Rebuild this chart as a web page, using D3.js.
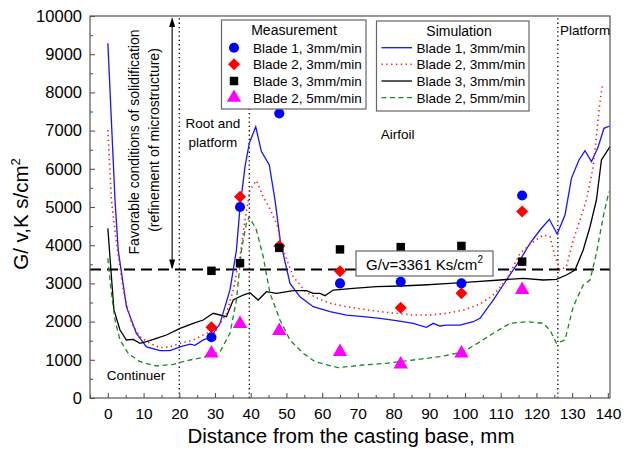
<!DOCTYPE html>
<html>
<head>
<meta charset="utf-8">
<script src="https://cdn.jsdelivr.net/npm/d3@7/dist/d3.min.js"></script>
<style>
html,body{margin:0;padding:0;background:#fff;}
svg{display:block;font-family:Arial,"Liberation Sans",sans-serif;}
</style>
</head>
<body>
<svg id="chart" width="627" height="451"></svg>
<script>
// ---------- data ----------
const xTicks = [0,10,20,30,40,50,60,70,80,90,100,110,120,130,140];
const yTicks = [0,1000,2000,3000,4000,5000,6000,7000,8000,9000,10000];
const threshold = 3361;

const measX = [29, 37, 48, 65, 82, 99, 116];
const measBlade1_3 = [1590, 5000, 7450, 3000, 3040, 3000, 5300];
const measBlade2_3 = [1850, 5270, 3980, 3320, 2360, 2740, 4880];
const measBlade3_3 = [3330, 3530, 3930, 3890, 3950, 3980, 3570];
const measBlade2_5 = [1170, 1940, 1760, 1210, 880, 1170, 2830];

const simBlade1_3 = [[0,9290],[2,5180],[2.9,3870],[5.2,2390],[8,1690],[10.8,1340],[14.6,1240],[17.4,1240],[20.2,1340],[23,1410],[24.4,1380],[26.7,1520],[28.8,1590],[31.4,1955],[34.2,2830],[36,3870],[37,4990],[38.4,6055],[39.6,6670],[41.4,7100],[43,6450],[45.2,6100],[46.8,5180],[48.3,4100],[51,3000],[53.8,2650],[57.5,2390],[62.2,2260],[66.8,2170],[71.5,2130],[76.2,2086],[80.8,2024],[85.5,1955],[89.2,1850],[91.1,1955],[93,1885],[94.8,1910],[98.6,1910],[102.3,1997],[104.2,2086],[107.9,2565],[111.6,3089],[115.4,3613],[118.2,4050],[121,4398],[123.6,4678],[125.8,4293],[128,4790],[129.8,5750],[131.9,6230],[133.6,6474],[135.4,6186],[137.3,6579],[138.9,7060],[140.5,7120]];
const simBlade2_3 = [[0,7015],[1,5180],[2.4,4050],[4.3,2830],[6.6,1955],[9,1605],[11.8,1430],[14.6,1317],[17.4,1343],[20.2,1432],[23.9,1518],[27.6,1694],[30.4,1780],[33.2,2217],[35.1,2827],[37,3700],[38.4,4660],[39.8,5445],[41.6,5690],[43.5,5270],[45.4,4950],[47.5,4500],[48.6,4000],[51.9,3175],[55.6,2760],[59,2600],[62.2,2479],[66.8,2390],[71.5,2322],[76.2,2260],[80.8,2217],[85.5,2173],[90.2,2173],[94.8,2217],[99.5,2300],[104.2,2460],[107.9,2696],[111.6,3089],[115.4,3788],[118.6,4050],[121.9,4267],[123.8,4222],[125.2,3700],[126.6,3351],[128.4,3438],[130.3,4136],[132.2,4660],[134,5183],[135.9,6055],[137.8,7750],[138.5,8190]];
const simBlade3_3 = [[0,4440],[1,3175],[1.7,2304],[3.4,1780],[5.2,1518],[7.1,1536],[9,1431],[10.8,1474],[13.6,1562],[16.4,1649],[20.2,1824],[23.9,1955],[26.7,2042],[29.5,2217],[33.2,2128],[35.1,2565],[37.9,2696],[39.8,2757],[42.1,2565],[44.4,2783],[47.2,2740],[51.9,2809],[55.6,2809],[57.5,2740],[59.4,2740],[60.8,2678],[63.1,2827],[68.7,2871],[75.2,2914],[81.8,2932],[88.3,2958],[95.8,3003],[103.2,3045],[109.8,3089],[116.3,3133],[121.9,3089],[125.6,3107],[128.4,3220],[130.8,3351],[133.1,3874],[135,4484],[136.8,5183],[138.2,6230],[140.6,6578]];
const simBlade2_5 = [[0,3657],[1,2740],[2,2042],[3.4,1518],[5.7,1170],[9,950],[13.6,838],[18.3,882],[23,995],[27.6,1082],[31.4,1212],[34.2,1694],[36,2565],[37.4,3874],[38.8,4573],[39.6,4746],[41.6,4398],[43.5,3700],[45.4,2740],[48.2,2042],[51,1518],[54.7,1170],[58,950],[64.5,794],[71.5,864],[78,908],[85.5,995],[93,1082],[99.5,1212],[103.5,1430],[107.9,1694],[112.6,1955],[117.2,1997],[121.9,1955],[123.8,1780],[125.6,1432],[128,1518],[130.3,2390],[133.1,2958],[135,3089],[136.8,3788],[138.7,4746],[140.3,5400]];

const measLabels = ["Blade 1, 3mm/min","Blade 2, 3mm/min","Blade 3, 3mm/min","Blade 2, 5mm/min"];
const simLabels  = ["Blade 1, 3mm/min","Blade 2, 3mm/min","Blade 3, 3mm/min","Blade 2, 5mm/min"];

// ---------- setup ----------
const svg = d3.select("#chart");
const L = 90, R = 610, T = 16, B = 398;
const x = d3.scaleLinear().domain([-5, 140.6]).range([L, R]);
const y = d3.scaleLinear().domain([0, 10000]).range([B, T]);
const axisColor = "#555";
const FONT = 'Arial,"Liberation Sans",sans-serif';

// vertical dotted region lines
const dotted = "1.3,3";
[[20, 0, 10000], [39.6, 0, 7600], [126, 0, 10000]].forEach(d => {
  svg.append("line").attr("x1", x(d[0])).attr("x2", x(d[0]))
    .attr("y1", y(d[1])).attr("y2", y(d[2]))
    .attr("stroke", "#000").attr("stroke-width", 1.3).attr("stroke-dasharray", dotted);
});

// threshold dashed line
svg.append("line").attr("x1", L).attr("x2", R).attr("y1", y(threshold)).attr("y2", y(threshold))
  .attr("stroke", "#000").attr("stroke-width", 2).attr("stroke-dasharray", "11,6");

// simulation lines
const line = d3.line().x(d => x(d[0])).y(d => y(d[1]));
const simStyles = [
  {data: simBlade1_3, color: "#1515ff", dash: null, w: 1.3},
  {data: simBlade2_3, color: "#ff2020", dash: "1.4,3.4", w: 1.6},
  {data: simBlade3_3, color: "#000", dash: null, w: 1.3},
  {data: simBlade2_5, color: "#1a8a1a", dash: "5,3.5", w: 1.3}
];
simStyles.forEach(s => {
  svg.append("path").attr("d", line(s.data)).attr("fill", "none")
    .attr("stroke", s.color).attr("stroke-width", s.w)
    .attr("stroke-dasharray", s.dash);
});

// markers
const markerDefs = [
  {vals: measBlade1_3, color: "#0000ff", sym: d3.symbolCircle, size: 80, rot: 0},
  {vals: measBlade2_3, color: "#ff0000", sym: d3.symbolSquare, size: 72, rot: 45},
  {vals: measBlade3_3, color: "#000", sym: d3.symbolSquare, size: 72, rot: 0},
  {vals: measBlade2_5, color: "#ff00ff", sym: d3.symbolTriangle, size: 90, rot: 0}
];
markerDefs.forEach(m => {
  svg.append("g").selectAll("path").data(m.vals.map((v, i) => [measX[i], v])).join("path")
    .attr("transform", d => `translate(${x(d[0])},${y(d[1])}) rotate(${m.rot})`)
    .attr("d", d3.symbol().type(m.sym).size(m.size))
    .attr("fill", m.color);
});

// frame
svg.append("rect").attr("x", L).attr("y", T).attr("width", R - L).attr("height", B - T)
  .attr("fill", "none").attr("stroke", axisColor).attr("stroke-width", 1.2);

// axes
const xAxis = svg.append("g").attr("transform", `translate(0,${B})`)
  .call(d3.axisBottom(x).tickValues(xTicks).tickSize(-5).tickPadding(10).tickFormat(d3.format("d")));
const xMinor = svg.append("g").attr("transform", `translate(0,${B})`)
  .call(d3.axisBottom(x).tickValues(xTicks.map(v => v - 5)).tickSize(-3).tickFormat(""));
const yAxis = svg.append("g").attr("transform", `translate(${L},0)`)
  .call(d3.axisLeft(y).tickValues(yTicks).tickSize(-5).tickPadding(8).tickFormat(d3.format("d")));
const yMinor = svg.append("g").attr("transform", `translate(${L},0)`)
  .call(d3.axisLeft(y).tickValues(yTicks.slice(0, -1).map(v => v + 500)).tickSize(-3).tickFormat(""));
[xAxis, xMinor, yAxis, yMinor].forEach(g => {
  g.select(".domain").remove();
  g.selectAll("line").attr("stroke", axisColor).attr("stroke-width", 1.1);
  g.selectAll("text").attr("fill", "#000").style("font-family", FONT);
});
xAxis.selectAll("text").style("font-size", "15.5px");
yAxis.selectAll("text").style("font-size", "16.5px");

// axis titles
svg.append("text").attr("x", 351).attr("y", 443).attr("text-anchor", "middle")
  .style("font-size", "20.5px").text("Distance from the casting base, mm");
const yt = svg.append("text").attr("transform", "translate(28,214) rotate(-90)")
  .attr("text-anchor", "middle").style("font-size", "20.5px");
yt.append("tspan").text("G/ v,K s/cm");
yt.append("tspan").attr("dy", -8).style("font-size", "13px").text("2");

// annotations
const ann = (t, xv, yv, anchor) => svg.append("text").attr("x", x(xv)).attr("y", y(yv))
  .attr("text-anchor", anchor || "start").style("font-size", "13.5px").text(t);
ann("Root and", 29.4, 7068, "middle");
ann("platform", 29.4, 6570, "middle");
ann("Airfoil", 76.4, 6780);
ann("Platform", 126.6, 9500);
ann("Continuer", -0.3, 470);

// rotated "favorable" text
svg.append("text").attr("transform", `translate(${x(8.6)},142) rotate(-90)`)
  .attr("text-anchor", "middle").style("font-size", "14px")
  .text("Favorable conditions of solidification");
svg.append("text").attr("transform", `translate(${x(14.2)},140) rotate(-90)`)
  .attr("text-anchor", "middle").style("font-size", "14px")
  .text("(refinement of microstructure)");

// double arrow
const ax = x(18);
svg.append("line").attr("x1", ax).attr("x2", ax).attr("y1", y(9870)).attr("y2", y(threshold) - 2)
  .attr("stroke", "#000").attr("stroke-width", 1.1);
svg.append("path").attr("d", `M${ax},${y(10000) + 1} L${ax - 3},${y(10000) + 11} L${ax + 3},${y(10000) + 11} Z`).attr("fill", "#000");
svg.append("path").attr("d", `M${ax},${y(threshold)} L${ax - 3},${y(threshold) - 10} L${ax + 3},${y(threshold) - 10} Z`).attr("fill", "#000");

// threshold label box
const bx = 356, by = 251, bw = 137, bh = 25;
svg.append("rect").attr("x", bx).attr("y", by).attr("width", bw).attr("height", bh)
  .attr("fill", "#fff").attr("stroke", "#666").attr("stroke-width", 1.2);
const tl = svg.append("text").attr("x", bx + bw / 2).attr("y", by + 19).attr("text-anchor", "middle")
  .style("font-size", "15px");
tl.append("tspan").text(`G/v=${threshold} Ks/cm`);
tl.append("tspan").attr("dy", -7).style("font-size", "10px").text("2");

// legends
function legendBox(x0, y0, w, h, title, titleX) {
  svg.append("rect").attr("x", x0).attr("y", y0).attr("width", w).attr("height", h)
    .attr("fill", "#fff").attr("stroke", "#666").attr("stroke-width", 1.2);
  svg.append("text").attr("x", titleX).attr("y", y0 + 15).attr("text-anchor", "middle")
    .style("font-size", "14px").text(title);
}
const rowY = [47.7, 64.3, 81, 97.7];
legendBox(221.5, 20, 144.5, 89, "Measurement", 294);
markerDefs.forEach((m, i) => {
  svg.append("path").attr("transform", `translate(234,${rowY[i]}) rotate(${m.rot})`)
    .attr("d", d3.symbol().type(m.sym).size(m.size)).attr("fill", m.color);
  svg.append("text").attr("x", 253).attr("y", rowY[i] + 5).style("font-size", "13.5px").text(measLabels[i]);
});
legendBox(376.5, 21, 152.5, 90, "Simulation", 459);
simStyles.forEach((s, i) => {
  svg.append("line").attr("x1", 381.5).attr("x2", 412).attr("y1", rowY[i]).attr("y2", rowY[i])
    .attr("stroke", s.color).attr("stroke-width", s.w).attr("stroke-dasharray", s.dash);
  svg.append("text").attr("x", 416.5).attr("y", rowY[i] + 5).style("font-size", "13.5px").text(simLabels[i]);
});
</script>
</body>
</html>
